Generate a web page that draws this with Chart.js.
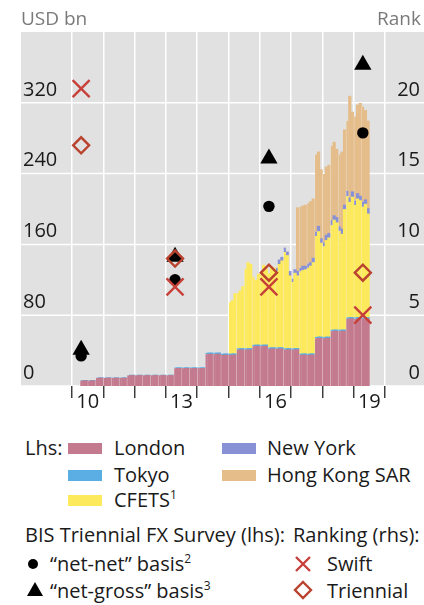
<!DOCTYPE html>
<html>
<head>
<meta charset="utf-8">
<script src="https://cdn.jsdelivr.net/npm/chart.js@4.4.1/dist/chart.umd.min.js"></script>
<style>
  html, body { margin: 0; padding: 0; background: #fff; }
  body { width: 424px; height: 605px; position: relative; overflow: hidden; font-family: "Open Sans", sans-serif; color: #1a1a1a; }
  #wrap { position: absolute; left: 0; top: 0; width: 424px; height: 416px; }
  .unit { position: absolute; top: 6px; font-size: 19px; line-height: 24px; color: #7a7a7a; }
  .lg { position: absolute; font-size: 20px; line-height: 22px; white-space: nowrap; }
  .sw { position: absolute; width: 34px; height: 11px; }
  .lg sup { font-size: 12px; line-height: 0; vertical-align: 0; position: relative; top: -8px; }
  svg.mk { position: absolute; overflow: visible; }
</style>
</head>
<body>
<div id="wrap"><canvas id="fx-chart" width="424" height="416"></canvas></div>
<div class="unit" style="left:21px">USD bn</div>
<div class="unit" style="right:3px">Rank</div>

<div class="lg" style="left:25px;top:437px">Lhs:</div>
<div class="sw" style="left:68px;top:443px;background:#c47a8e"></div>
<div class="lg" style="left:114px;top:437px">London</div>
<div class="sw" style="left:68px;top:470px;background:#5aaee4"></div>
<div class="lg" style="left:114px;top:464px">Tokyo</div>
<div class="sw" style="left:68px;top:495px;background:#fde95c"></div>
<div class="lg" style="left:114px;top:489px">CFETS<sup>1</sup></div>
<div class="sw" style="left:222px;top:443px;background:#8890d6"></div>
<div class="lg" style="left:267px;top:437px">New York</div>
<div class="sw" style="left:222px;top:470px;background:#e4bd8b"></div>
<div class="lg" style="left:267px;top:464px">Hong Kong SAR</div>

<div class="lg" style="left:25px;top:524px">BIS Triennial FX Survey (lhs):</div>
<div class="lg" style="left:293px;top:524px">Ranking (rhs):</div>
<svg class="mk" style="left:33px;top:564px" width="1" height="1"><circle cx="0" cy="0" r="5" fill="#000"/></svg>
<div class="lg" style="left:50px;top:553px">“net-net” basis<sup>2</sup></div>
<svg class="mk" style="left:35px;top:590px" width="1" height="1"><polygon points="0,-8 8,6 -8,6" fill="#000"/></svg>
<div class="lg" style="left:50px;top:580px">“net-gross” basis<sup>3</sup></div>
<svg class="mk" style="left:303px;top:564px" width="1" height="1"><path d="M-7,-7L7,7M7,-7L-7,7" stroke="#c8403a" stroke-width="2.4"/></svg>
<div class="lg" style="left:327px;top:553px">Swift</div>
<svg class="mk" style="left:303px;top:590px" width="1" height="1"><path d="M0,-8L8,0L0,8L-8,0Z" fill="none" stroke="#b9432e" stroke-width="2.4"/></svg>
<div class="lg" style="left:327px;top:580px">Triennial</div>

<script>
// months on the x axis: Jan 2010 .. Dec 2019
var years = [2010, 2011, 2012, 2013, 2014, 2015, 2016, 2017, 2018, 2019];
var labelledYears = [2010, 2013, 2016, 2019];
var leftTicks = [0, 80, 160, 240, 320];

// monthly turnover, USD bn (each series starts at the month given)
var londonStart = "2010-04";
var london = [
  6, 6, 6, 6, 6, 6, 9, 9, 9,
  9, 9, 9, 9, 9, 9, 9, 9, 9, 12, 12, 12,
  12, 12, 12, 12, 12, 12, 12, 12, 12, 12, 12, 12,
  12, 12, 12, 20, 20, 20, 20, 20, 20, 20, 20, 20,
  20, 20, 20, 36, 36, 36, 36, 36, 36, 35, 35, 35,
  35, 35, 35, 41, 41, 41, 41, 41, 41, 45, 45, 45,
  45, 45, 45, 42, 42, 42, 42, 42, 42, 41, 41, 41,
  41, 41, 41, 35, 35, 35, 35, 35, 35, 54, 54, 54,
  54, 54, 54, 62, 62, 62, 62, 62, 62, 76, 76, 76,
  76, 76, 76, 76, 76, 76
];
var tokyoStart = "2010-04";
var tokyo = [
  0.4, 0.4, 0.4, 0.4, 0.4, 0.4, 0.4, 0.4, 0.4,
  0.4, 0.4, 0.4, 0.4, 0.4, 0.4, 0.4, 0.4, 0.4, 0.4, 0.4, 0.4,
  0.4, 0.4, 0.4, 0.4, 0.4, 0.4, 0.4, 0.4, 0.4, 0.4, 0.4, 0.4,
  0.4, 0.4, 0.4, 0.8, 0.8, 0.8, 0.8, 0.8, 0.8, 0.8, 0.8, 0.8,
  0.8, 0.8, 0.8, 1.5, 1.5, 1.5, 1.5, 1.5, 1.5, 1.5, 1.5, 1.5,
  1.5, 1.5, 1.5, 1.5, 1.5, 1.5, 1.5, 1.5, 1.5, 1.5, 1.5, 1.5,
  1.5, 1.5, 1.5, 1.5, 1.5, 1.5, 1.5, 1.5, 1.5, 1.5, 1.5, 1.5,
  1.5, 1.5, 1.5, 1.5, 1.5, 1.5, 1.5, 1.5, 1.5, 1.5, 1.5, 1.5,
  1.5, 1.5, 1.5, 1.5, 1.5, 1.5, 1.5, 1.5, 1.5, 1.5, 1.5, 1.5,
  1.5, 1.5, 1.5, 1.5, 1.5, 1.5
];
var cfetsStart = "2015-01";
var cfets = [
  58, 60, 68, 63, 65, 70, 90, 97, 95, 77, 73, 80,
  83, 90, 86, 84, 91, 90, 86, 94, 98, 109, 105, 82,
  75, 85, 82, 93, 94, 95, 97, 99, 103, 114, 119, 106,
  102, 109, 112, 118, 124, 121, 112, 108, 136, 137, 130, 136,
  127, 134, 132, 125, 128, 117
];
var newYorkStart = "2016-07";
var newYork = [
  4, 5, 4, 5, 4, 5,
  4, 4, 5, 4, 5, 4, 5, 4, 5, 5, 6, 5,
  5, 6, 5, 6, 5, 6, 5, 6, 5, 6, 5, 6,
  5, 6, 5, 6, 5, 6
];
var hongKongStart = "2017-03";
var hongKong = [
  72, 69, 68, 69, 68, 69, 67, 87, 84, 78,
  77, 77, 77, 84, 83, 77, 81, 87, 85, 79, 115, 90,
  95, 100, 105, 107, 101, 99
];

// BIS Triennial survey (lhs, USD bn) and rankings (rhs)
var surveyMonths = ["2010-04", "2013-04", "2016-04", "2019-04"];
var netNet = [34, 120, 203, 286];
var netGross = [41, 146, 257, 363];
var swiftRank = [21, 7, 7, 5];
var triennialRank = [17, 9, 8, 8];

var months = [];
years.forEach(function(y) {
  for (var m = 1; m <= 12; m++) months.push(y + "-" + (m < 10 ? "0" + m : m));
});

function place(start, values) {
  var out = months.map(function() { return null; });
  var i0 = months.indexOf(start);
  values.forEach(function(v, i) { out[i0 + i] = v; });
  return out;
}
function points(values) {
  return surveyMonths.map(function(m, i) { return { x: m, y: values[i] }; });
}
function isYearLine(ctx) {
  return ctx.index === undefined || ctx.index % 12 === 0;
}

var backdrop = {
  id: "backdrop",
  beforeDraw: function(chart) {
    var ctx = chart.ctx, area = chart.chartArea, y = chart.scales.y;
    ctx.save();
    ctx.fillStyle = "#e1e1e1";
    ctx.fillRect(21, area.top, chart.width - 21, area.bottom - area.top);
    ctx.strokeStyle = "#ffffff";
    ctx.lineWidth = 1.5;
    leftTicks.forEach(function(v) {
      var py = y.getPixelForValue(v);
      ctx.beginPath();
      ctx.moveTo(21, py);
      ctx.lineTo(chart.width, py);
      ctx.stroke();
    });
    ctx.restore();
  }
};

var font = { family: "'Open Sans', sans-serif", size: 20 };

function barSet(label, start, values, color) {
  return {
    type: "bar", label: label, data: place(start, values),
    backgroundColor: color,
    borderColor: "rgba(255,255,255,0.28)",
    borderSkipped: false,
    borderWidth: function(ctx) {
      return (ctx.dataIndex % 3 === 0) ? { left: 0.8, right: 0, top: 0, bottom: 0 } : 0;
    },
    barPercentage: 1, categoryPercentage: 1,
    stack: "cities", yAxisID: "y", order: 5
  };
}
function markSet(label, values, axis, style, radius, fill, stroke, width, order) {
  return {
    type: "line", label: label, data: points(values), yAxisID: axis,
    stack: label, showLine: false, order: order,
    pointStyle: style, pointRadius: radius, pointHoverRadius: radius,
    pointBackgroundColor: fill, pointBorderColor: stroke, pointBorderWidth: width
  };
}

var chart = new Chart(document.getElementById("fx-chart").getContext("2d"), {
  type: "bar",
  data: {
    labels: months,
    datasets: [
      barSet("London", londonStart, london, "#c47a8e"),
      barSet("Tokyo", tokyoStart, tokyo, "#5aaee4"),
      barSet("CFETS", cfetsStart, cfets, "#fde95c"),
      barSet("New York", newYorkStart, newYork, "#8890d6"),
      barSet("Hong Kong SAR", hongKongStart, hongKong, "#e4bd8b"),
      markSet("net-gross", netGross, "y", "triangle", 10, "#000", "#000", 0, 3),
      markSet("net-net", netNet, "y", "circle", 5.7, "#000", "#000", 0, 2),
      markSet("Swift", swiftRank, "y2", "crossRot", 12, "#c8403a", "#c8403a", 2.4, 1),
      markSet("Triennial", triennialRank, "y2", "rectRot", 8, "rgba(0,0,0,0)", "#b9432e", 2.4, 0)
    ]
  },
  options: {
    responsive: false,
    animation: false,
    layout: { padding: { left: 23, right: 4, top: 32, bottom: 0 } },
    plugins: { legend: { display: false }, tooltip: { enabled: false } },
    scales: {
      x: {
        stacked: true,
        offset: true,
        afterFit: function(s) { s.height = 30; },
        border: { display: false },
        grid: {
          offset: true,
          lineWidth: 1.5,
          color: function(ctx) { return isYearLine(ctx) ? "#ffffff" : "rgba(0,0,0,0)"; },
          tickLength: 12,
          tickWidth: 1.4,
          tickColor: function(ctx) { return isYearLine(ctx) ? "#333333" : "rgba(0,0,0,0)"; }
        },
        ticks: {
          autoSkip: false, maxRotation: 0, minRotation: 0,
          padding: -8, labelOffset: -1.3,
          font: font, color: "#1a1a1a",
          callback: function(v, i) {
            var m = months[i];
            return m.slice(5) === "07" && labelledYears.indexOf(+m.slice(0, 4)) >= 0 ? m.slice(2, 4) : "";
          }
        }
      },
      y: {
        position: "left", stacked: true, min: 0, max: 400,
        afterFit: function(s) { s.width = 49; },
        border: { display: false },
        grid: { display: false },
        ticks: {
          stepSize: 80, crossAlign: "far", labelOffset: -13, padding: 0,
          font: font, color: "#1a1a1a",
          callback: function(v) { return v === 400 ? "" : v; }
        }
      },
      y2: {
        position: "right", min: 0, max: 25,
        afterFit: function(s) { s.width = 35; },
        border: { display: false },
        grid: { display: false },
        ticks: {
          stepSize: 5, crossAlign: "far", labelOffset: -13, padding: 0,
          font: font, color: "#1a1a1a",
          callback: function(v) { return v === 25 ? "" : v; }
        }
      }
    }
  },
  plugins: [backdrop]
});
</script>
</body>
</html>
